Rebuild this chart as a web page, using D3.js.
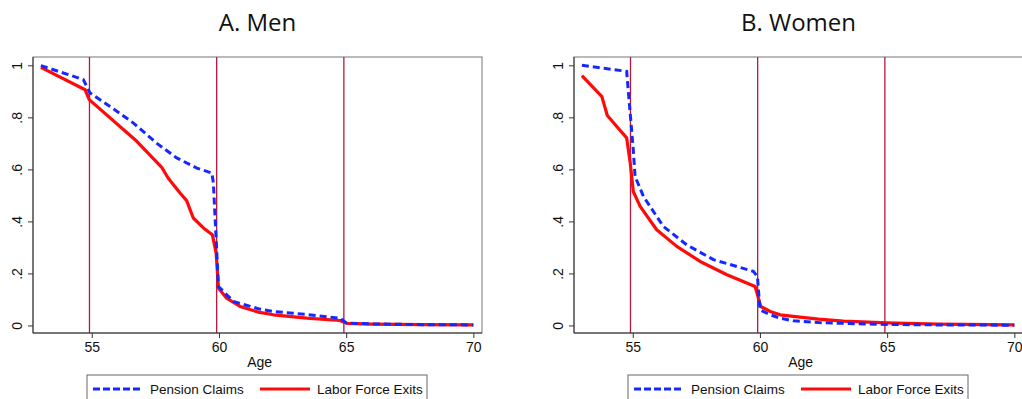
<!DOCTYPE html>
<html>
<head>
<meta charset="utf-8">
<script src="https://cdn.jsdelivr.net/npm/d3@7"></script>
<style>
  html, body { margin: 0; padding: 0; background: #fff; }
  svg { display: block; }
  .title { font-family: "Open Sans", sans-serif; font-size: 24px; fill: #111; }
  .axis text { font-family: "Liberation Sans", Arial, sans-serif; font-size: 14px; fill: #111; }
  .axis path, .axis line { stroke: #333; }
  .axis-label { font-family: "Liberation Sans", Arial, sans-serif; font-size: 14px; fill: #111; }
  .legend text { font-family: "Liberation Sans", Arial, sans-serif; font-size: 13.5px; fill: #111; }
</style>
</head>
<body>
<svg id="chart" width="1022" height="399"></svg>
<script>
// Panel titles
const panelTitles = ['A. Men', 'B. Women'];

// Tick labels
const xTicks = [55, 60, 65, 70];
const yTicks = [0, 0.2, 0.4, 0.6, 0.8, 1];
const yTickLabels = ['0', '.2', '.4', '.6', '.8', '1'];

// Reference lines (just before the birthdays)
const refAges = [54.91, 59.91, 64.91];

// Men
const menClaimAge = [53, 54.67, 54.93, 55.72, 56.64, 57.56, 58.34, 59.13, 59.72, 59.78, 59.89, 59.98, 60.57, 61.6, 62.14, 63.45, 64.76, 65.02, 66, 68, 70];
const menClaimVal = [0.999, 0.945, 0.894, 0.842, 0.778, 0.70, 0.644, 0.605, 0.586, 0.548, 0.33, 0.15, 0.092, 0.063, 0.054, 0.042, 0.028, 0.009, 0.006, 0.003, 0.002];
const menExitAge = [53, 54.74, 54.9, 56.77, 57.75, 58.0, 58.47, 58.73, 58.99, 59.39, 59.74, 59.89, 59.98, 60.3, 60.83, 61.6, 62.14, 63.45, 64.76, 65.02, 66, 68, 70];
const menExitVal = [0.992, 0.906, 0.868, 0.708, 0.608, 0.567, 0.509, 0.48, 0.413, 0.375, 0.349, 0.278, 0.144, 0.105, 0.073, 0.05, 0.041, 0.028, 0.019, 0.008, 0.005, 0.003, 0.002];

// Women
const womenClaimAge = [53, 54.76, 54.82, 55.02, 55.09, 55.42, 56.2, 57.12, 58.17, 59.74, 59.9, 60.0, 60.4, 60.79, 61.31, 62.3, 63.28, 65, 67, 70];
const womenClaimVal = [1.0, 0.977, 0.906, 0.676, 0.573, 0.496, 0.381, 0.31, 0.253, 0.208, 0.188, 0.06, 0.041, 0.028, 0.018, 0.011, 0.008, 0.004, 0.002, 0.001];
const womenExitAge = [53, 53.78, 54.0, 54.37, 54.76, 54.9, 55.02, 55.29, 55.94, 56.73, 57.65, 58.7, 59.81, 60.03, 60.4, 60.79, 61.31, 62.3, 63.28, 65, 67, 70];
const womenExitVal = [0.96, 0.881, 0.807, 0.765, 0.721, 0.625, 0.515, 0.458, 0.368, 0.304, 0.246, 0.195, 0.15, 0.073, 0.054, 0.041, 0.035, 0.024, 0.017, 0.01, 0.005, 0.002];

const seriesNames = ['Pension Claims', 'Labor Force Exits'];

const blue = '#1428ff';
const red = '#ff0a0a';
const refColor = '#b8173c';

const svg = d3.select('#chart');

const panels = [
  { left: 33, claims: d3.zip(menClaimAge, menClaimVal), exits: d3.zip(menExitAge, menExitVal), legendX: 87 },
  { left: 574, claims: d3.zip(womenClaimAge, womenClaimVal), exits: d3.zip(womenExitAge, womenExitVal), legendX: 628 }
];

const plotW = 449;
const plotTop = 57;
const plotBottom = 333;

panels.forEach((p, i) => {
  const x = d3.scaleLinear().domain([52.69, 70.34]).range([p.left, p.left + plotW]);
  const y = d3.scaleLinear().domain([-0.029, 1.032]).range([plotBottom, plotTop]);

  const g = svg.append('g');

  // Title
  g.append('text')
    .attr('class', 'title')
    .attr('x', p.left + plotW / 2)
    .attr('y', 31)
    .attr('text-anchor', 'middle')
    .text(panelTitles[i]);

  // Frame
  g.append('rect')
    .attr('x', p.left).attr('y', plotTop)
    .attr('width', plotW).attr('height', plotBottom - plotTop)
    .attr('fill', 'none')
    .attr('stroke', '#777')
    .attr('stroke-width', 1);

  // Reference lines
  g.selectAll('.ref')
    .data(refAges)
    .enter()
    .append('line')
    .attr('class', 'ref')
    .attr('x1', d => x(d)).attr('x2', d => x(d))
    .attr('y1', plotTop).attr('y2', plotBottom)
    .attr('stroke', refColor)
    .attr('stroke-width', 1.3);

  // Axes
  g.append('g')
    .attr('class', 'axis')
    .attr('transform', `translate(0,${plotBottom})`)
    .call(d3.axisBottom(x).tickValues(xTicks).tickSize(5).tickSizeOuter(0).tickPadding(4))
    .call(a => a.select('.domain').attr('d', `M${p.left},0H${p.left + plotW}`));

  const yAxis = g.append('g')
    .attr('class', 'axis')
    .attr('transform', `translate(${p.left},0)`)
    .call(d3.axisLeft(y).tickValues(yTicks).tickSize(5).tickSizeOuter(0)
      .tickFormat((d, k) => yTickLabels[k]))
    .call(a => a.select('.domain').attr('d', `M0,${plotTop}V${plotBottom}`));

  yAxis.selectAll('.tick text')
    .attr('x', 0).attr('y', 0).attr('dy', '0.35em')
    .attr('text-anchor', 'middle')
    .attr('transform', 'translate(-16,0) rotate(-90)');

  // Axis label
  g.append('text')
    .attr('class', 'axis-label')
    .attr('x', x(61.6))
    .attr('y', 367)
    .attr('text-anchor', 'middle')
    .text('Age');

  const line = d3.line()
    .x(d => x(d[0]))
    .y(d => y(d[1]));

  // Labor force exits (solid red)
  g.append('path')
    .datum(p.exits)
    .attr('d', line)
    .attr('fill', 'none')
    .attr('stroke', red)
    .attr('stroke-width', 3.2)
    .attr('stroke-linejoin', 'round');

  // Pension claims (dashed blue)
  g.append('path')
    .datum(p.claims)
    .attr('d', line)
    .attr('fill', 'none')
    .attr('stroke', blue)
    .attr('stroke-width', 3)
    .attr('stroke-dasharray', '7 4');

  // Legend
  const lg = g.append('g').attr('class', 'legend')
    .attr('transform', `translate(${p.legendX},375)`);
  lg.append('rect')
    .attr('width', 340).attr('height', 34)
    .attr('fill', '#fff')
    .attr('stroke', '#666')
    .attr('stroke-width', 1);
  lg.append('line')
    .attr('x1', 6).attr('x2', 55).attr('y1', 14).attr('y2', 14)
    .attr('stroke', blue).attr('stroke-width', 3).attr('stroke-dasharray', '7 3');
  lg.append('text').attr('x', 63).attr('y', 14).attr('dy', '0.35em').text(seriesNames[0]);
  lg.append('line')
    .attr('x1', 173).attr('x2', 223).attr('y1', 14).attr('y2', 14)
    .attr('stroke', red).attr('stroke-width', 3);
  lg.append('text').attr('x', 230).attr('y', 14).attr('dy', '0.35em').text(seriesNames[1]);
});
</script>
</body>
</html>
